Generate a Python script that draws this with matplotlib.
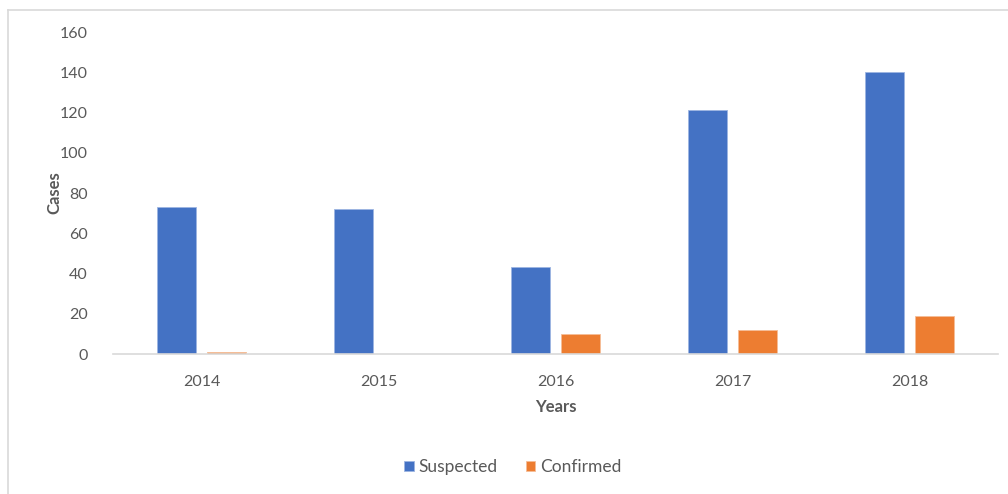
import matplotlib
matplotlib.use("Agg")
import matplotlib.pyplot as plt
from matplotlib.lines import Line2D
import numpy as np

years = ["2014", "2015", "2016", "2017", "2018"]
suspected = [73, 72, 43, 121, 140]
confirmed = [1, 0, 10, 12, 19]

plt.rcParams['font.family'] = ['Lato', 'DejaVu Sans']

W, H = 1008, 494
fig = plt.figure(figsize=(W / 100, H / 100), dpi=100)

# outer chart border (only top and left visible)
fig.lines.append(Line2D([7.5 / W, 7.5 / W], [0, (H - 10) / H], transform=fig.transFigure,
                        color='#D9D9D9', linewidth=1.2))
fig.lines.append(Line2D([7.5 / W, 1], [(H - 10) / H, (H - 10) / H], transform=fig.transFigure,
                        color='#D9D9D9', linewidth=1.2))

left, right = 113 / W, 998 / W
bottom, top = (H - 354) / H, (H - 32) / H
ax = fig.add_axes([left, bottom, right - left, top - bottom])

x = np.arange(len(years))
bw = 0.22
off = 0.143
b1 = ax.bar(x - off, suspected, bw, color='#4472C4', edgecolor='#9DB5E2', linewidth=0.6,
            label='Suspected')
b2 = ax.bar(x + off, confirmed, bw, color='#ED7D31', edgecolor='#F6BE98', linewidth=0.6,
            label='Confirmed')

ax.set_xlim(-0.5, len(years) - 0.5)
ax.set_ylim(0, 160)
ax.set_yticks(range(0, 161, 20))
ax.set_xticks(x)
ax.set_xticklabels(years)

for s in ['top', 'right', 'left']:
    ax.spines[s].set_visible(False)
ax.spines['bottom'].set_color('#D9D9D9')
ax.spines['bottom'].set_linewidth(1.2)
ax.tick_params(axis='both', length=0, labelsize=11.5, labelcolor='#595959')
ax.tick_params(axis='y', pad=18)
ax.tick_params(axis='x', pad=15)

ax.set_ylabel('Cases', fontsize=12, fontweight='bold', color='#595959', labelpad=-2)
ax.set_xlabel('Years', fontsize=12, fontweight='bold', color='#595959', labelpad=7)

fig.legend(handles=[b1, b2], labels=['Suspected', 'Confirmed'], loc='center',
           bbox_to_anchor=(513 / W, (H - 467) / H), ncol=2, frameon=False,
           fontsize=12.5, handlelength=0.55, handleheight=0.55, handletextpad=0.3,
           columnspacing=1.6, labelcolor='#595959')

fig.savefig('out.png', dpi=100)
